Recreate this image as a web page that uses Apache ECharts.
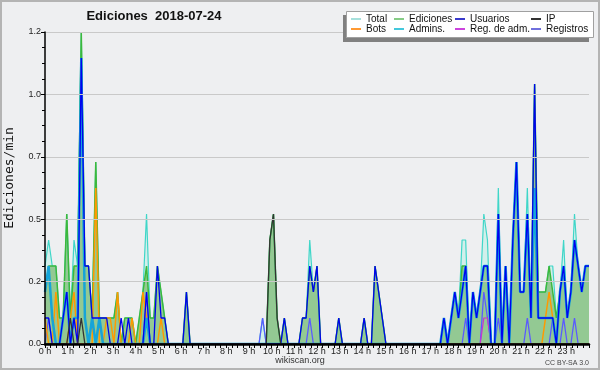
<!DOCTYPE html>
<html><head><meta charset="utf-8">
<script src="https://cdn.jsdelivr.net/npm/echarts/dist/echarts.min.js"></script>
<style>html,body{margin:0;padding:0;background:#eeeff1}#c{width:600px;height:370px}</style>
</head><body><div id="c"></div>
<script>
// Each value = number of edits counted in one 9.6-minute bin (150 bins per day + end point)
const BIN_MINUTES = 9.6;
const hourLabels = ['0 h','1 h','2 h','3 h','4 h','5 h','6 h','7 h','8 h','9 h','10 h','11 h','12 h','13 h','14 h','15 h','16 h','17 h','18 h','19 h','20 h','21 h','22 h','23 h'];
const yTickLabels = ['0.0','0.2','0.5','0.7','1.0','1.2'];

const total = [
3,4,3,3,1,1,5,1,4,3,
12,3,3,1,7,1,1,1,1,1,
2,0,1,1,1,0,1,2,5,1,
1,3,2,1,0,0,0,0,0,2,
0,0,0,0,0,0,0,0,0,0,
0,0,0,0,0,0,0,0,0,0,
1,0,4,5,1,0,1,0,0,0,
0,1,1,4,2,3,0,0,0,0,
0,1,0,0,0,0,0,0,1,0,
0,3,2,1,0,0,0,0,0,0,
0,0,0,0,0,0,0,0,0,0,
1,0,1,2,1,4,4,0,2,1,
2,5,4,0,0,6,0,3,0,4,
7,2,2,6,1,10,2,2,2,3,
3,1,2,4,1,2,5,3,2,3,
3];
const ediciones = [
2,3,3,3,1,1,5,1,3,3,
12,3,3,1,7,1,1,1,1,1,
2,0,1,1,1,0,1,2,3,1,
1,3,2,1,0,0,0,0,0,2,
0,0,0,0,0,0,0,0,0,0,
0,0,0,0,0,0,0,0,0,0,
0,0,4,5,1,0,1,0,0,0,
0,1,1,3,2,3,0,0,0,0,
0,1,0,0,0,0,0,0,1,0,
0,3,2,1,0,0,0,0,0,0,
0,0,0,0,0,0,0,0,0,0,
1,0,1,2,1,3,3,0,2,1,
2,3,3,0,0,5,0,3,0,4,
7,2,2,5,1,10,2,2,2,3,
2,1,2,3,1,2,4,3,2,3,
3];
const usuarios = [
1,1,0,0,0,1,2,0,1,0,
11,3,3,1,1,1,1,1,0,0,
0,1,0,1,0,0,0,0,2,0,
0,3,1,1,0,0,0,0,0,2,
0,0,0,0,0,0,0,0,0,0,
0,0,0,0,0,0,0,0,0,0,
0,0,0,0,0,0,1,0,0,0,
0,1,1,3,2,3,0,0,0,0,
0,1,0,0,0,0,0,0,1,0,
0,3,2,1,0,0,0,0,0,0,
0,0,0,0,0,0,0,0,0,0,
1,0,1,2,1,2,3,0,2,1,
2,3,3,0,0,5,0,3,0,4,
7,2,2,5,1,10,1,1,1,1,
1,0,2,3,1,2,4,3,2,3,
3];
const ip = [
0,0,0,0,0,0,0,1,0,0,
1,0,0,0,0,0,0,0,0,0,
0,0,0,0,0,0,0,0,0,0,
0,0,0,0,0,0,0,0,0,0,
0,0,0,0,0,0,0,0,0,0,
0,0,0,0,0,0,0,0,0,0,
0,0,4,5,1,0,0,0,0,0,
0,0,0,0,0,0,0,0,0,0,
0,0,0,0,0,0,0,0,0,0,
0,0,0,0,0,0,0,0,0,0,
0,0,0,0,0,0,0,0,0,0,
0,0,0,0,0,0,0,0,0,0,
0,0,0,0,0,0,0,0,0,0,
0,0,0,0,0,0,0,0,0,0,
0,0,0,0,0,0,0,0,0,0,
0];
const bots = [
1,0,0,2,0,0,0,1,2,0,
0,0,0,0,6,0,0,1,1,0,
2,0,0,0,1,0,0,2,1,0,
0,0,1,0,0,0,0,0,0,0,
0,0,0,0,0,0,0,0,0,0,
0,0,0,0,0,0,0,0,0,0,
0,0,0,0,0,0,0,0,0,0,
0,0,0,0,0,0,0,0,0,0,
0,0,0,0,0,0,0,0,0,0,
0,0,0,0,0,0,0,0,0,0,
0,0,0,0,0,0,0,0,0,0,
0,0,0,0,0,0,0,0,0,0,
0,0,0,0,0,0,0,0,0,0,
0,0,0,0,0,0,0,0,1,2,
1,0,0,0,0,0,0,0,0,0,
0];
const admins = [
2,3,1,0,0,1,2,0,1,1,
11,1,0,1,0,1,0,0,0,0,
0,0,0,0,0,0,0,0,1,0,
0,0,0,0,0,0,0,0,0,0,
0,0,0,0,0,0,0,0,0,0,
0,0,0,0,0,0,0,0,0,0,
0,0,0,0,0,0,0,0,0,0,
0,0,0,0,0,0,0,0,0,0,
0,0,0,0,0,0,0,0,0,0,
0,0,0,0,0,0,0,0,0,0,
0,0,0,0,0,0,0,0,0,0,
1,0,1,2,1,2,3,0,2,1,
2,3,3,0,0,5,0,3,0,4,
7,2,2,5,1,6,1,1,1,1,
1,0,2,3,1,2,4,3,2,3,
3];
const regAdm = [
0,0,0,0,0,0,0,0,0,0,
0,0,0,0,0,0,0,0,0,0,
0,0,0,0,0,0,0,0,0,0,
0,0,0,0,0,0,0,0,0,0,
0,0,0,0,0,0,0,0,0,0,
0,0,0,0,0,0,0,0,0,0,
0,0,0,0,0,0,0,0,0,0,
0,0,0,0,0,0,0,0,0,0,
0,0,0,0,0,0,0,0,0,0,
0,0,0,0,0,0,0,0,0,0,
0,0,0,0,0,0,0,0,0,0,
0,0,0,0,0,0,0,0,0,0,
0,1,1,0,0,0,0,0,0,0,
0,0,0,0,0,0,0,0,0,0,
0,0,0,0,0,0,0,0,0,0,
0];
const registros = [
0,1,0,0,0,0,0,0,1,0,
0,0,0,0,0,0,0,0,0,0,
0,0,0,0,0,0,0,0,2,0,
0,0,0,0,0,0,0,0,0,0,
0,0,0,0,0,0,0,0,0,0,
0,0,0,0,0,0,0,0,0,0,
1,0,0,0,0,0,0,0,0,0,
0,0,0,1,0,0,0,0,0,0,
0,0,0,0,0,0,0,0,0,0,
0,0,0,0,0,0,0,0,0,0,
0,0,0,0,0,0,0,0,0,0,
0,0,0,0,0,0,1,0,0,0,
0,2,1,0,0,1,0,0,0,0,
0,0,0,1,0,0,0,0,0,0,
1,0,0,1,0,0,1,0,0,0,
0];

const FONT = 'Liberation Sans';
const toPts = arr => arr.map((c, i) => [i * BIN_MINUTES / 60, c / BIN_MINUTES]);

function lineSeries(name, arr, color, width, area) {
  const s = {
    name, type: 'line', data: toPts(arr), showSymbol: false, symbol: 'none', z: 2,
    lineStyle: { color, width }, itemStyle: { color }, animation: false, silent: true
  };
  if (area) s.areaStyle = { color: area, opacity: 1 };
  return s;
}

const legendItems = [
  ['Total', '#a6e0dc', 351, 14], ['Ediciones', '#86cc86', 394, 14], ['Usuarios', '#3a3acc', 455, 14], ['IP', '#333333', 531, 14],
  ['Bots', '#ff9a33', 351, 24], ['Admins.', '#44c8dc', 394, 24], ['Reg. de adm.', '#cc44dd', 455, 24], ['Registros', '#7070dd', 531, 24]
];

const chart = echarts.init(document.getElementById('c'), null, { renderer: 'canvas' });
chart.setOption({
  backgroundColor: '#eeeff1',
  animation: false,
  grid: { left: 45, right: 11, top: 32, bottom: 26 },
  xAxis: {
    type: 'value', min: 0, max: 24, interval: 1, z: 10,
    axisLine: { lineStyle: { color: '#000', width: 2.5 } },
    axisTick: { show: true, length: 4, lineStyle: { color: '#000' } },
    minorTick: { show: true, splitNumber: 4, length: 4, lineStyle: { color: '#000' } },
    splitLine: { show: false },
    axisLabel: { formatter: v => hourLabels[v] || '', fontSize: 9, color: '#222', margin: 3, fontFamily: FONT }
  },
  yAxis: {
    type: 'value', min: 0, max: 1.25, interval: 0.25, z: 10,
    axisLine: { show: true, lineStyle: { color: '#000', width: 1.5 } },
    axisTick: { show: true, length: 4, lineStyle: { color: '#000' } },
    minorTick: { show: true, splitNumber: 4, length: 3, lineStyle: { color: '#000' } },
    splitLine: { show: true, lineStyle: { color: '#c9c9c9', width: 1 } },
    axisLabel: { formatter: v => yTickLabels[Math.round(v / 0.25)], fontSize: 9, color: '#222', margin: 4, fontFamily: FONT }
  },
  legend: legendItems.map(([name, color, left, top]) => ({
    data: [{ name, itemStyle: { color } }],
    left, top, icon: 'rect', itemWidth: 10, itemHeight: 2, z: 120, selectedMode: false,
    padding: 0, textStyle: { fontSize: 10, color: '#111', fontFamily: FONT, lineHeight: 10, padding: [0, 0, 0, 0] }
  })),
  graphic: { elements: [
    { type: 'rect', z: 100, shape: { x: 1, y: 1, width: 598, height: 368 }, style: { fill: 'none', stroke: '#b4b4b4', lineWidth: 2 } },
    { type: 'rect', z: 100, shape: { x: 343, y: 15, width: 246, height: 27 }, style: { fill: '#808080' } },
    { type: 'rect', z: 101, shape: { x: 346.5, y: 11.5, width: 247, height: 26 }, style: { fill: '#ffffff', stroke: '#a0a0a0', lineWidth: 1 } },
    { type: 'text', z: 101, x: 154, y: 16, style: { text: 'Ediciones  2018-07-24', font: 'bold 13px "Liberation Sans"', fill: '#111', textAlign: 'center', textVerticalAlign: 'middle' } },
    { type: 'text', z: 101, x: 10, y: 178, rotation: Math.PI / 2, style: { text: 'Ediciones/min', font: '13px "DejaVu Sans Mono"', fill: '#111', textAlign: 'center', textVerticalAlign: 'middle' } },
    { type: 'text', z: 101, x: 300, y: 361, style: { text: 'wikiscan.org', font: '9px "Liberation Sans"', fill: '#333', textAlign: 'center', textVerticalAlign: 'middle' } },
    { type: 'text', z: 101, x: 589, y: 363, style: { text: 'CC BY-SA 3.0', font: '7px "Liberation Sans"', fill: '#444', textAlign: 'right', textVerticalAlign: 'middle' } }
  ] },
  series: [
    lineSeries('Total', total, '#3fd6c8', 1.2, '#d2efeb'),
    lineSeries('Ediciones', ediciones, '#3cb83c', 1.5, '#93c993'),
    lineSeries('Registros', registros, '#5a5aff', 1.3),
    lineSeries('Reg. de adm.', regAdm, '#cc33cc', 1.2),
    lineSeries('Bots', bots, '#ff9900', 1.5),
    lineSeries('Admins.', admins, '#16a4d8', 2.5),
    lineSeries('Usuarios', usuarios, '#0000f0', 1.3),
    lineSeries('IP', ip, '#333333', 1.3)
  ]
});
</script></body></html>
